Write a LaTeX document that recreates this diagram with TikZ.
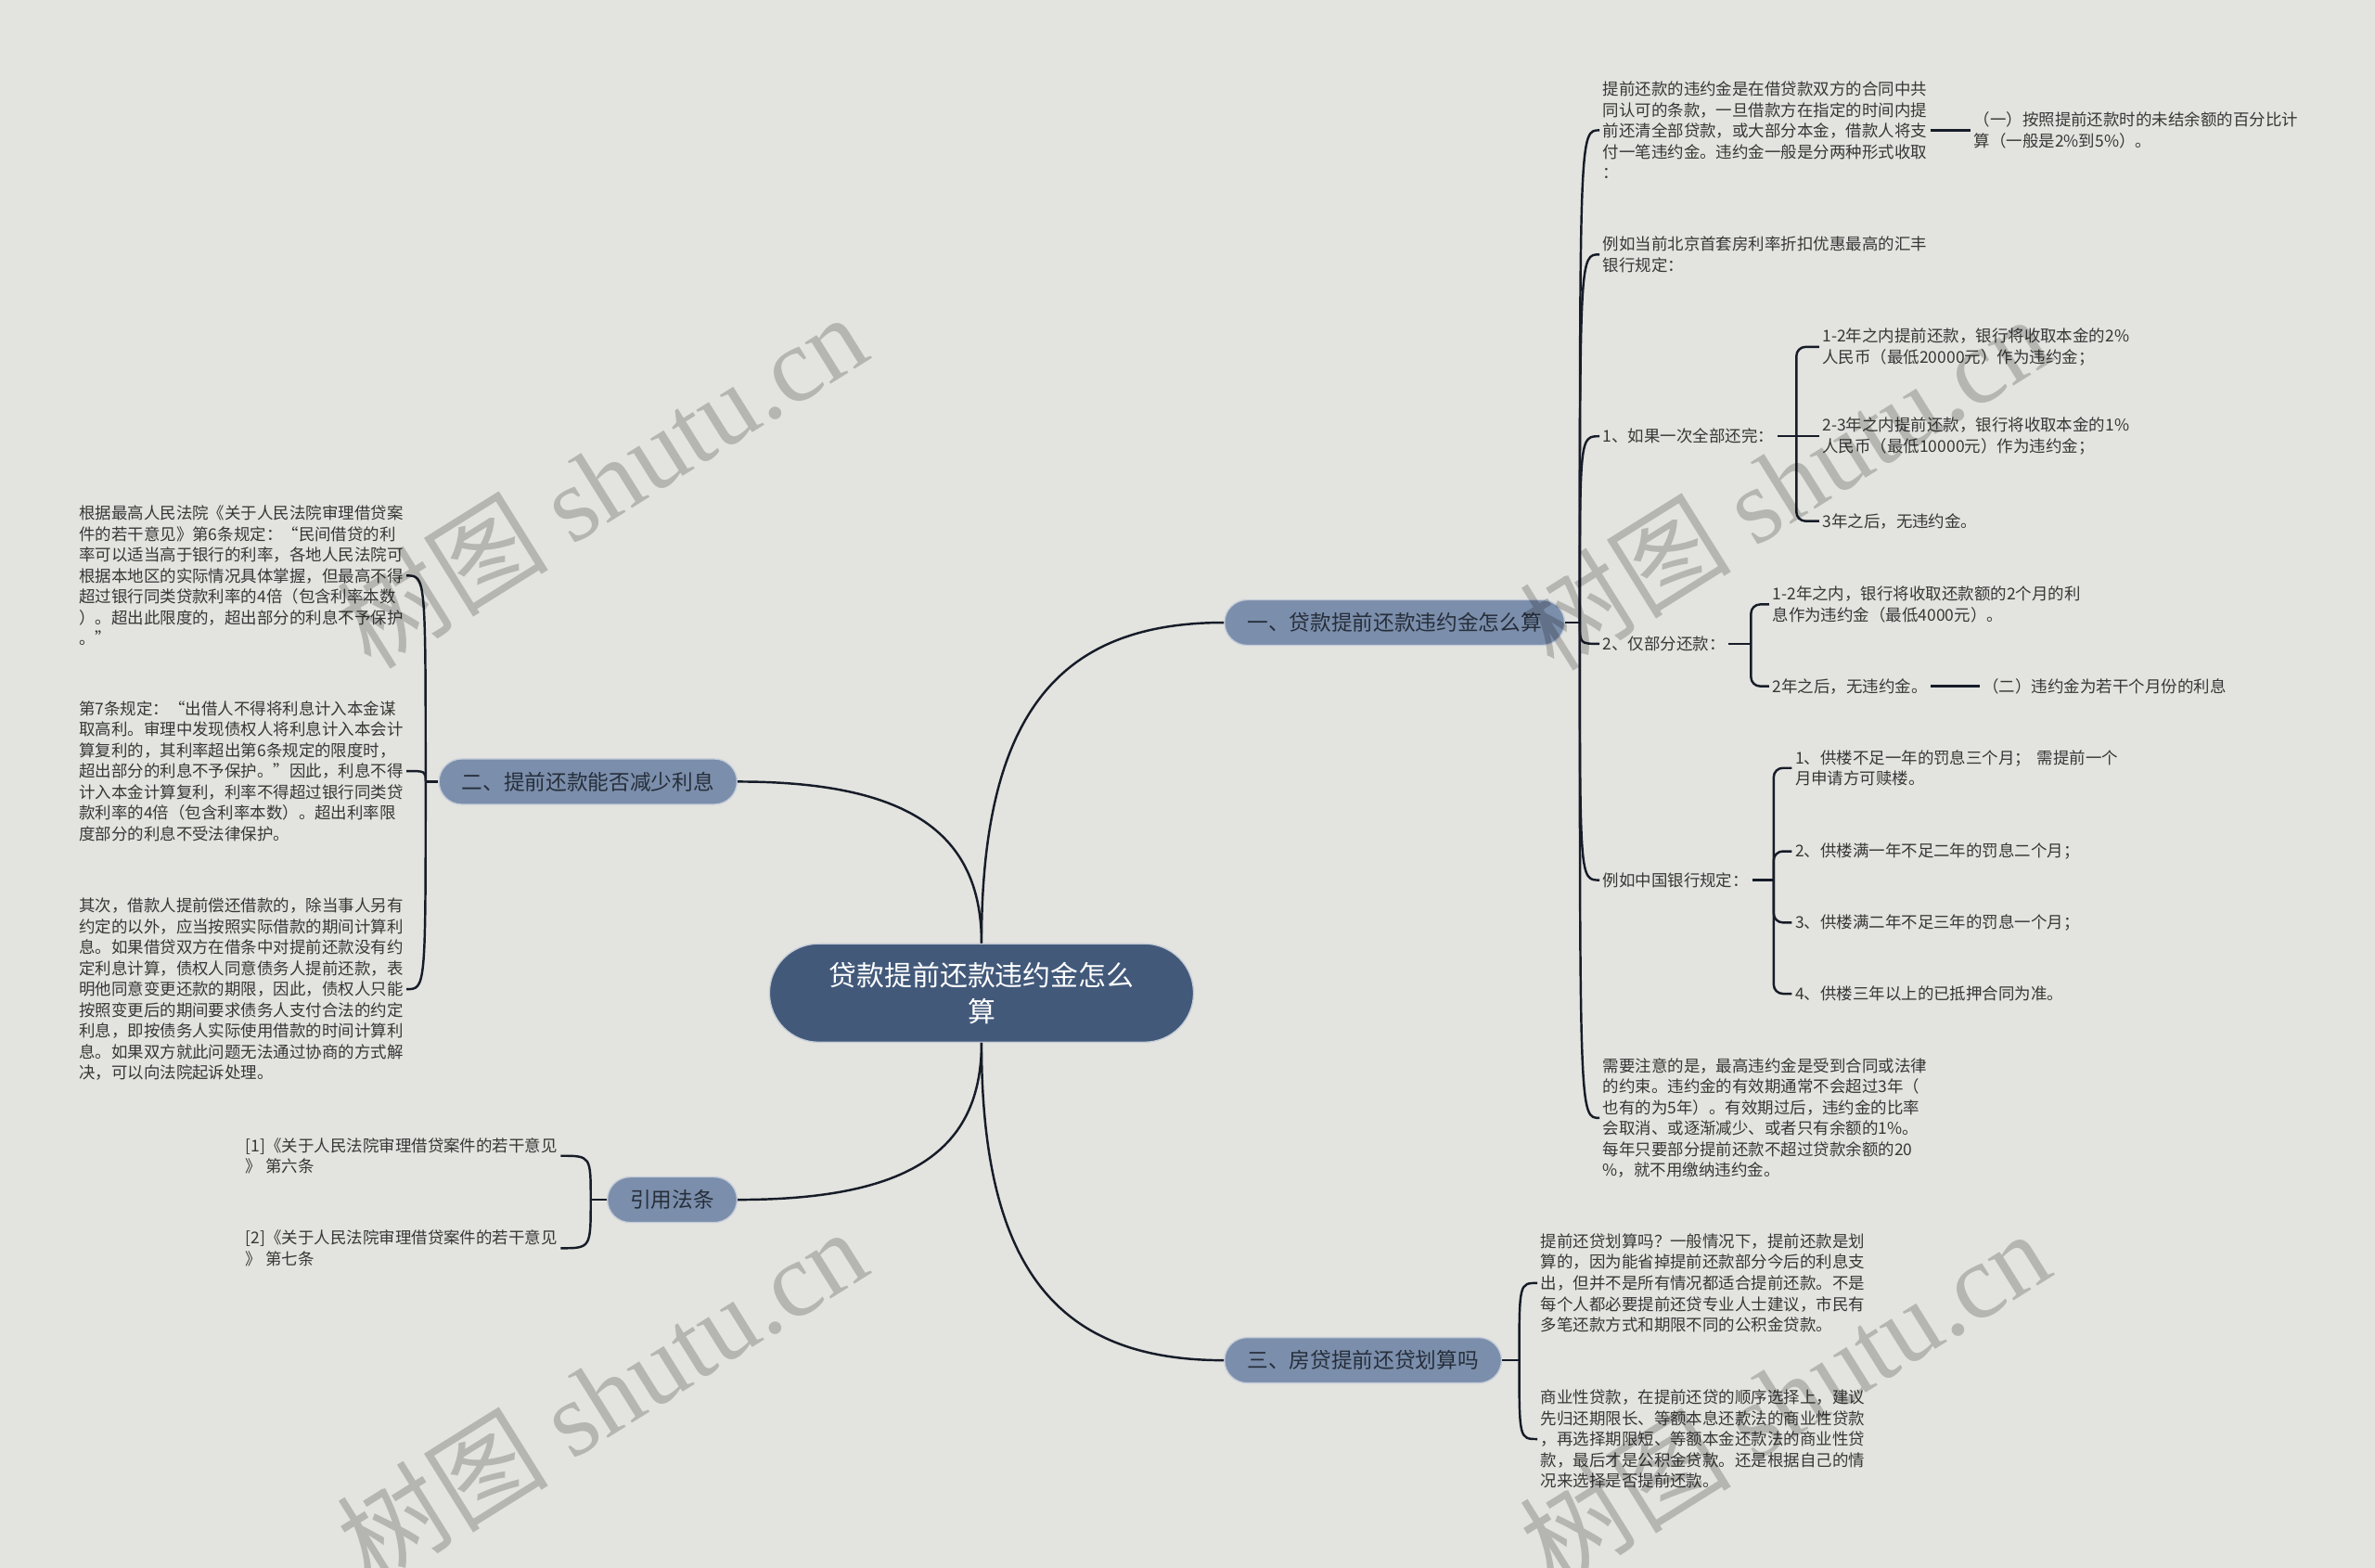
\documentclass[tikz,border=0pt]{standalone}
\usepackage{fontspec}
\setmainfont{Noto Sans CJK SC}
\newfontfamily\wmfont{Liberation Serif}
\definecolor{bgc}{RGB}{227,227,223}
\definecolor{mainc}{RGB}{66,89,122}
\definecolor{brc}{RGB}{123,142,171}
\definecolor{linec}{RGB}{22,28,40}
\definecolor{txtc}{RGB}{55,55,55}
\definecolor{brtxt}{RGB}{38,46,58}
\tikzset{
  txt/.style={font=\fontsize{10.7}{13.8}\selectfont, text=txtc, align=left, inner sep=2pt, anchor=west},
  branch/.style={fill=brc, draw=white!55!brc, line width=0.8pt, rounded corners=15pt, minimum height=30pt, inner xsep=15pt, inner ysep=0pt, font=\fontsize{13.9}{16}\selectfont, text=brtxt},
  root/.style={fill=mainc, draw=white!70!mainc, line width=0.8pt, rounded corners=32.5pt, minimum width=280pt, minimum height=65pt, font=\fontsize{18.3}{24}\selectfont, text=white, align=center},
  link/.style={draw=linec, line width=1.5pt},
  wm/.style={font=\fontsize{70}{70}\selectfont, text=black, text opacity=0.2, rotate=32},
}
\newcommand\lk[2]{\draw[link] (#1) .. controls (#1 |- #2) .. (#2);}
\newcommand\bk[2]{\draw[link, rounded corners=6pt] (#1) |- (#2);}
\begin{document}
\begin{tikzpicture}[x=1pt,y=-1pt]
\useasboundingbox (0,0) rectangle (1568,1035);
\fill[bgc] (0,0) rectangle (1568,1035);

% root and branches
\node[root] (m) at (648,655.5) {贷款提前还款违约金怎么\\算};
\node[branch, anchor=west] (b1) at (808,411) {一、贷款提前还款违约金怎么算};
\node[branch, anchor=east] (b2) at (487,516) {二、提前还款能否减少利息};
\node[branch, anchor=east] (b3) at (487,792) {引用法条};
\node[branch, anchor=west] (b4) at (808,898) {三、房贷提前还贷划算吗};

\draw[link] (m.north) .. controls (648,470) and (700,411) .. (b1.west);
\draw[link] (m.north) .. controls (648,550) and (600,516) .. (b2.east);
\draw[link] (m.south) .. controls (648,760) and (600,792) .. (b3.east);
\draw[link] (m.south) .. controls (648,840) and (700,898) .. (b4.west);

% branch 1 children
\node[txt] (a) at (1056,86) {提前还款的违约金是在借贷款双方的合同中共\\同认可的条款，一旦借款方在指定的时间内提\\前还清全部贷款，或大部分本金，借款人将支\\付一笔违约金。违约金一般是分两种形式收取\\：};
\node[txt] (a1) at (1301,86) {（一）按照提前还款时的未结余额的百分比计\\算（一般是2\%到5\%）。};
\node[txt] (b) at (1056,168) {例如当前北京首套房利率折扣优惠最高的汇丰\\银行规定：};
\node[txt] (c) at (1056,288) {1、如果一次全部还完：};
\node[txt] (c1) at (1201,229) {1-2年之内提前还款，银行将收取本金的2\%\\人民币（最低20000元）作为违约金；};
\node[txt] (c2) at (1201,288) {2-3年之内提前还款，银行将收取本金的1\%\\人民币（最低10000元）作为违约金；};
\node[txt] (c3) at (1201,344) {3年之后，无违约金。};
\node[txt] (d) at (1056,425) {2、仅部分还款：};
\node[txt] (d1) at (1168,399) {1-2年之内，银行将收取还款额的2个月的利\\息作为违约金（最低4000元）。};
\node[txt] (d2) at (1168,453) {2年之后，无违约金。};
\node[txt] (d21) at (1307,453) {（二）违约金为若干个月份的利息};
\node[txt] (e) at (1056,581) {例如中国银行规定：};
\node[txt] (e1) at (1183,507) {1、供楼不足一年的罚息三个月；\hspace{4pt}需提前一个\\月申请方可赎楼。};
\node[txt] (e2) at (1183,562) {2、供楼满一年不足二年的罚息二个月；};
\node[txt] (e3) at (1183,609) {3、供楼满二年不足三年的罚息一个月；};
\node[txt] (e4) at (1183,656) {4、供楼三年以上的已抵押合同为准。};
\node[txt] (f) at (1056,738) {需要注意的是，最高违约金是受到合同或法律\\的约束。违约金的有效期通常不会超过3年（\\也有的为5年）。有效期过后，违约金的比率\\会取消、或逐渐减少、或者只有余额的1\%。\\每年只要部分提前还款不超过贷款余额的20\\\%，就不用缴纳违约金。};

\coordinate (j1) at (1043,411);
\draw[link] (b1.east) -- (j1);
\lk{j1}{a.west}
\lk{j1}{b.west}
\lk{j1}{c.west}
\lk{j1}{d.west}
\lk{j1}{e.west}
\lk{j1}{f.west}
\draw[link] (a.east) -- (a1.west);

\coordinate (jc) at (1186,288);
\draw[link] (c.east) -- (jc);
\bk{jc}{c1.west}
\draw[link] (jc) -- (c2.west);
\bk{jc}{c3.west}

\coordinate (jd) at (1156,425);
\draw[link] (d.east) -- (jd);
\bk{jd}{d1.west}
\bk{jd}{d2.west}
\draw[link] (d2.east) -- (d21.west);

\coordinate (je) at (1171,581);
\draw[link] (e.east) -- (je);
\bk{je}{e1.west}
\bk{je}{e2.west}
\bk{je}{e3.west}
\bk{je}{e4.west}

% branch 2 children
\node[txt] (g1) at (50,380) {根据最高人民法院《关于人民法院审理借贷案\\件的若干意见》第6条规定：“民间借贷的利\\率可以适当高于银行的利率，各地人民法院可\\根据本地区的实际情况具体掌握，但最高不得\\超过银行同类贷款利率的4倍（包含利率本数\\）。超出此限度的，超出部分的利息不予保护\\。”};
\node[txt] (g2) at (50,509) {第7条规定：“出借人不得将利息计入本金谋\\取高利。审理中发现债权人将利息计入本会计\\算复利的，其利率超出第6条规定的限度时，\\超出部分的利息不予保护。”因此，利息不得\\计入本金计算复利，利率不得超过银行同类贷\\款利率的4倍（包含利率本数）。超出利率限\\度部分的利息不受法律保护。};
\node[txt] (g3) at (50,653) {其次，借款人提前偿还借款的，除当事人另有\\约定的以外，应当按照实际借款的期间计算利\\息。如果借贷双方在借条中对提前还款没有约\\定利息计算，债权人同意债务人提前还款，表\\明他同意变更还款的期限，因此，债权人只能\\按照变更后的期间要求债务人支付合法的约定\\利息，即按债务人实际使用借款的时间计算利\\息。如果双方就此问题无法通过协商的方式解\\决，可以向法院起诉处理。};
\coordinate (j2) at (281,516);
\draw[link] (b2.west) -- (j2);
\lk{j2}{g1.east}
\lk{j2}{g2.east}
\lk{j2}{g3.east}

% branch 3 children
\node[txt] (h1) at (160,763) {[1]《关于人民法院审理借贷案件的若干意见\\》 第六条};
\node[txt] (h2) at (160,824) {[2]《关于人民法院审理借贷案件的若干意见\\》 第七条};
\coordinate (j3) at (390,792);
\draw[link] (b3.west) -- (j3);
\lk{j3}{h1.east}
\lk{j3}{h2.east}

% branch 4 children
\node[txt] (k1) at (1015,847) {提前还贷划算吗？一般情况下，提前还款是划\\算的，因为能省掉提前还款部分今后的利息支\\出，但并不是所有情况都适合提前还款。不是\\每个人都必要提前还贷专业人士建议，市民有\\多笔还款方式和期限不同的公积金贷款。};
\node[txt] (k2) at (1015,950) {商业性贷款，在提前还贷的顺序选择上，建议\\先归还期限长、等额本息还款法的商业性贷款\\，再选择期限短、等额本金还款法的商业性贷\\款，最后才是公积金贷款。还是根据自己的情\\况来选择是否提前还款。};
\coordinate (j4) at (1003,898);
\draw[link] (b4.east) -- (j4);
\lk{j4}{k1.west}
\lk{j4}{k2.west}

% watermarks
\node[wm] (w1) at (397,317) {树图 {\wmfont shutu.cn}};
\node[wm] (w2) at (1178,318) {树图 {\wmfont shutu.cn}};
\node[wm] (w3) at (397,921) {树图 {\wmfont shutu.cn}};
\node[wm] (w4) at (1178,922) {树图 {\wmfont shutu.cn}};
\end{tikzpicture}
\end{document}
